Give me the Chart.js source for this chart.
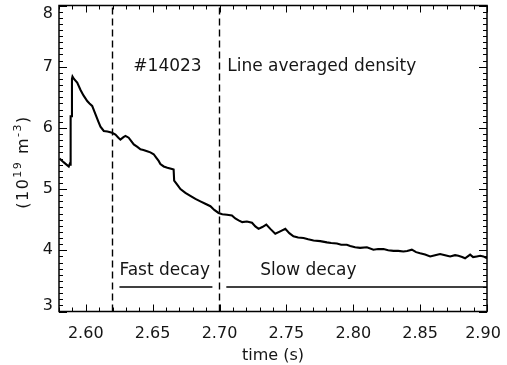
<!DOCTYPE html>
<html><head><meta charset="utf-8">
<script src="https://cdn.jsdelivr.net/npm/chart.js@4"></script>
<style>html,body{margin:0;padding:0;background:#fff}#wrap{width:507px;height:365px}</style>
</head><body><div id="wrap"><canvas id="c" width="507" height="365"></canvas></div>
<script>
// ---- data ----
const timeS = [2.5804,2.5834,2.5856,2.5873,2.5882,2.5886,2.5887,2.5895,2.5897,2.5901,2.5912,2.5936,2.5961,2.5983,2.6011,2.6028,2.6048,2.6073,2.6095,2.6110,2.6135,2.6162,2.6197,2.6222,2.6244,2.6259,2.6282,2.6297,2.6321,2.6359,2.6386,2.6409,2.6431,2.6459,2.6483,2.6508,2.6528,2.6545,2.6558,2.6583,2.6610,2.6645,2.6657,2.6661,2.6685,2.6708,2.6745,2.6782,2.6820,2.6857,2.6894,2.6932,2.6961,2.6993,2.7021,2.7056,2.7093,2.7118,2.7143,2.7170,2.7205,2.7243,2.7268,2.7292,2.7320,2.7350,2.7380,2.7417,2.7454,2.7492,2.7522,2.7553,2.7588,2.7628,2.7663,2.7703,2.7753,2.7803,2.7835,2.7878,2.7910,2.7952,2.7977,2.8014,2.8051,2.8102,2.8151,2.8186,2.8226,2.8261,2.8301,2.8336,2.8375,2.8403,2.8438,2.8470,2.8500,2.8537,2.8575,2.8612,2.8649,2.8687,2.8724,2.8761,2.8786,2.8814,2.8836,2.8874,2.8896,2.8924,2.8949,2.8973,2.9000];
const density = [5.50,5.44,5.40,5.37,5.42,5.40,6.19,6.19,6.80,6.84,6.80,6.74,6.62,6.53,6.44,6.40,6.36,6.22,6.10,6.02,5.95,5.94,5.92,5.89,5.84,5.81,5.85,5.87,5.84,5.73,5.69,5.65,5.64,5.62,5.60,5.57,5.51,5.46,5.41,5.37,5.35,5.33,5.32,5.14,5.07,5.00,4.94,4.89,4.84,4.80,4.76,4.72,4.66,4.61,4.59,4.58,4.57,4.52,4.49,4.46,4.47,4.45,4.39,4.35,4.38,4.42,4.35,4.27,4.31,4.35,4.28,4.23,4.21,4.20,4.18,4.16,4.15,4.13,4.12,4.11,4.09,4.09,4.07,4.05,4.04,4.05,4.01,4.02,4.02,4.00,3.99,3.99,3.98,3.99,4.01,3.97,3.95,3.93,3.90,3.92,3.94,3.92,3.90,3.92,3.91,3.89,3.87,3.93,3.89,3.90,3.91,3.90,3.87];
const xTicks = [2.60,2.65,2.70,2.75,2.80,2.85,2.90];
const yTicks = [3,4,5,6,7,8];
const xRange = [2.58, 2.90];
const yRange = [3, 8];
const xMinorStep = 0.01;
const yMinorStep = 0.1;
const markerTimes = [2.62, 2.70];
const fastDecaySpan = [2.6252, 2.6947];
const slowDecaySpan = [2.7051, 2.90];
const spanLevel = 3.4;
const labels = [
  {text:'#14023', x:2.6356, y:6.93},
  {text:'Line averaged density', x:2.7058, y:6.93},
  {text:'Fast decay', x:2.6252, y:3.60},
  {text:'Slow decay', x:2.7305, y:3.60}
];

const FONT = '"DejaVu Sans", sans-serif';
const TXT = '#151515';

const series = timeS.map((t,i)=>({x:t, y:density[i]}));
const datasets = [{data:series, borderColor:'#000', borderWidth:2.1, pointRadius:0, showLine:true, tension:0}];
markerTimes.forEach(t=>datasets.push({data:[{x:t,y:yRange[0]},{x:t,y:yRange[1]}], borderColor:'#000', borderWidth:1.4, borderDash:[7,4], pointRadius:0, showLine:true}));
[fastDecaySpan, slowDecaySpan].forEach(s=>datasets.push({data:[{x:s[0],y:spanLevel},{x:s[1],y:spanLevel}], borderColor:'#000', borderWidth:1.4, pointRadius:0, showLine:true}));

const framePlugin = {
  id:'frame',
  afterDraw(chart){
    const {ctx, chartArea:a, scales:{x,y}} = chart;
    ctx.save();
    ctx.strokeStyle='#000';
    ctx.lineWidth=1.5;
    ctx.strokeRect(a.left,a.top,a.right-a.left,a.bottom-a.top);
    ctx.lineWidth=1;
    ctx.beginPath();
    const nx = Math.round((xRange[1]-xRange[0])/xMinorStep);
    for(let i=0;i<=nx;i++){
      const v = Math.round((xRange[0]+i*xMinorStep)*1e6)/1e6;
      const px = Math.round(x.getPixelForValue(v))+0.5;
      const L = xTicks.some(t=>Math.abs(t-v)<1e-6) ? 7 : 4;
      ctx.moveTo(px,a.bottom); ctx.lineTo(px,a.bottom-L);
      ctx.moveTo(px,a.top); ctx.lineTo(px,a.top+L);
    }
    const ny = Math.round((yRange[1]-yRange[0])/yMinorStep);
    for(let i=0;i<=ny;i++){
      const v = Math.round((yRange[0]+i*yMinorStep)*1e6)/1e6;
      const py = Math.round(y.getPixelForValue(v))+0.5;
      const L = yTicks.some(t=>Math.abs(t-v)<1e-6) ? 8 : 4;
      ctx.moveTo(a.left,py); ctx.lineTo(a.left+L,py);
      ctx.moveTo(a.right,py); ctx.lineTo(a.right-L,py);
    }
    ctx.stroke();
    ctx.fillStyle=TXT;
    // tick labels (kept inside the window like the original)
    ctx.font='16px '+FONT;
    ctx.textAlign='right'; ctx.textBaseline='middle';
    yTicks.forEach(v=>{
      const py = Math.min(Math.max(y.getPixelForValue(v), a.top+8), a.bottom-5.5);
      ctx.fillText(String(v), a.left-6, py);
    });
    ctx.textAlign='center'; ctx.textBaseline='alphabetic';
    xTicks.forEach(v=>{
      const px = Math.min(x.getPixelForValue(v), a.right-4);
      ctx.fillText(v.toFixed(2), px, 338);
    });
    // annotations
    ctx.font='17px '+FONT;
    ctx.textAlign='left';
    labels.forEach(l=>ctx.fillText(l.text, x.getPixelForValue(l.x), y.getPixelForValue(l.y)));
    ctx.font='16px '+FONT;
    ctx.textAlign='center';
    ctx.fillText('time (s)', (a.left+a.right)/2, 360);
    // y title with superscripts
    ctx.translate(28, 162);
    ctx.rotate(-Math.PI/2);
    try { ctx.letterSpacing = '1.5px'; } catch(e) {}
    const parts = [['(10',0,16],['19',-7,11],[' m',0,16],['-3',-7,11],[')',0,16]];
    let total = 0;
    parts.forEach(p=>{ctx.font=p[2]+'px '+FONT; total += ctx.measureText(p[0]).width;});
    let cx = -total/2;
    ctx.textAlign='left';
    parts.forEach(p=>{ctx.font=p[2]+'px '+FONT; ctx.fillText(p[0], cx, p[1]); cx += ctx.measureText(p[0]).width;});
    ctx.restore();
  }
};

new Chart(document.getElementById('c'), {
  type:'scatter',
  data:{datasets},
  options:{
    responsive:false, animation:false, devicePixelRatio:1,
    layout:{padding:{top:5.5,right:20,left:0,bottom:0}},
    plugins:{legend:{display:false}, tooltip:{enabled:false}},
    scales:{
      x:{type:'linear', min:xRange[0], max:xRange[1],
         afterBuildTicks:s=>{s.ticks = xTicks.map(v=>({value:v}));},
         afterFit:s=>{s.height = 53.5; s.paddingLeft = 0; s.paddingRight = 0;},
         ticks:{display:false},
         grid:{display:false, drawTicks:false}, border:{display:false}},
      y:{type:'linear', min:yRange[0], max:yRange[1],
         afterBuildTicks:s=>{s.ticks = yTicks.map(v=>({value:v}));},
         afterFit:s=>{s.width = 59; s.paddingTop = 0; s.paddingBottom = 0;},
         ticks:{display:false},
         grid:{display:false, drawTicks:false}, border:{display:false}}
    }
  },
  plugins:[framePlugin]
});
</script></body></html>
